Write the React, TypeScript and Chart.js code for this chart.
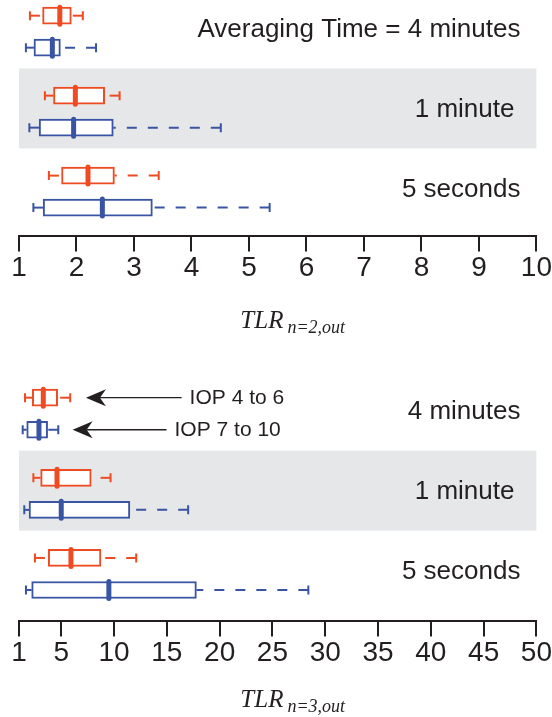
import React, { useEffect, useRef } from 'react';
import { Chart, registerables } from 'chart.js';

Chart.register(...registerables);

// ---------- data ----------
const SERIES = ['IOP 4 to 6', 'IOP 7 to 10'];
const COLORS = ['#EF4B23', '#3A54A4'];
const INK = '#231F20';
const BAND = '#E6E7E8';

// Panel 1: TLR n=2,out
const TOP_GROUPS = ['Averaging Time = 4 minutes', '1 minute', '5 seconds'];
const TOP_TICKS = [1, 2, 3, 4, 5, 6, 7, 8, 9, 10];
const TOP_RED_MIN = [1.19, 1.45, 1.52];
const TOP_RED_Q1 = [1.41, 1.6, 1.74];
const TOP_RED_MED = [1.71, 1.98, 2.2];
const TOP_RED_Q3 = [1.91, 2.49, 2.66];
const TOP_RED_MAX = [2.11, 2.75, 3.43];
const TOP_BLUE_MIN = [1.12, 1.18, 1.25];
const TOP_BLUE_Q1 = [1.26, 1.35, 1.42];
const TOP_BLUE_MED = [1.58, 1.95, 2.45];
const TOP_BLUE_Q3 = [1.72, 2.64, 3.32];
const TOP_BLUE_MAX = [2.34, 4.51, 5.36];

// Panel 2: TLR n=3,out
const BOT_GROUPS = ['4 minutes', '1 minute', '5 seconds'];
const BOT_TICKS = [1, 5, 10, 15, 20, 25, 30, 35, 40, 45, 50];
const BOT_RED_MIN = [1.57, 2.36, 2.51];
const BOT_RED_Q1 = [2.26, 3.05, 3.77];
const BOT_RED_MED = [3.3, 4.6, 5.92];
const BOT_RED_Q3 = [4.66, 7.84, 8.76];
const BOT_RED_MAX = [5.85, 9.67, 12.1];
const BOT_BLUE_MIN = [1.35, 1.5, 1.66];
const BOT_BLUE_Q1 = [1.73, 1.95, 2.2];
const BOT_BLUE_MED = [2.89, 5.0, 9.51];
const BOT_BLUE_Q3 = [3.71, 11.5, 17.8];
const BOT_BLUE_MAX = [4.72, 17.02, 28.4];

// legend arrows (bottom panel, 4-minute group): tip and tail in TLR units
const ARROW_TIP = [7.34, 6.08];
const ARROW_TAIL = [16.4, 14.97];

// row layout in slot units (1 slot = 16 px)
const GROUP_SPAN = 5;
const SERIES_GAP = 2;

const SANS = '"Liberation Sans", Arial, Helvetica, sans-serif';
const SERIF = '"Liberation Serif", "Times New Roman", serif';

type PanelDef = {
  groups: string[];
  ticks: number[];
  xMin: number;
  xMax: number;
  mins: number[][];
  q1s: number[][];
  meds: number[][];
  q3s: number[][];
  maxs: number[][];
  sub: string;
  height: number;
  padBottom: number;
  yMax: number;
  titleOffset: number;
  arrows: boolean;
};

const boxPlugin = {
  id: 'boxDecor',
  beforeDatasetsDraw(chart: any) {
    const { ctx, chartArea, scales } = chart;
    const y = scales.y;
    const top = y.getPixelForValue(GROUP_SPAN - 1.7);
    const bot = y.getPixelForValue(GROUP_SPAN + SERIES_GAP + 1.3);
    ctx.save();
    ctx.fillStyle = BAND;
    ctx.fillRect(chartArea.left, top, chartArea.right - chartArea.left, bot - top);
    ctx.restore();
  },
  afterDatasetsDraw(chart: any) {
    const { ctx, scales } = chart;
    const x = scales.x;
    chart.data.datasets.forEach((ds: any, di: number) => {
      const meta = chart.getDatasetMeta(di);
      meta.data.forEach((el: any, i: number) => {
        const yc = el.y;
        const pMin = x.getPixelForValue(ds.whiskerMin[i]);
        const pMax = x.getPixelForValue(ds.whiskerMax[i]);
        const pQ1 = x.getPixelForValue(ds.data[i].x[0]);
        const pQ3 = x.getPixelForValue(ds.data[i].x[1]);
        const pMed = x.getPixelForValue(ds.median[i]);
        ctx.save();
        ctx.strokeStyle = ds.borderColor;
        ctx.lineWidth = 2;
        ctx.lineCap = 'butt';
        // whiskers, dashed from the cap towards the box
        ctx.setLineDash([10, 11]);
        ctx.beginPath();
        ctx.moveTo(pMin, yc);
        ctx.lineTo(pQ1, yc);
        ctx.stroke();
        ctx.beginPath();
        ctx.moveTo(pMax, yc);
        ctx.lineTo(pQ3, yc);
        ctx.stroke();
        ctx.setLineDash([]);
        // caps
        ctx.beginPath();
        ctx.moveTo(pMin, yc - 4.5);
        ctx.lineTo(pMin, yc + 4.5);
        ctx.moveTo(pMax, yc - 4.5);
        ctx.lineTo(pMax, yc + 4.5);
        ctx.stroke();
        // median
        ctx.lineWidth = 5;
        ctx.lineCap = 'round';
        ctx.beginPath();
        ctx.moveTo(pMed, yc - 8.5);
        ctx.lineTo(pMed, yc + 8.5);
        ctx.stroke();
        ctx.restore();
      });
    });
  },
};

const textPlugin = {
  id: 'panelText',
  afterDraw(chart: any) {
    const { ctx, chartArea, scales } = chart;
    const o = chart.options.plugins.panelText;
    const y = scales.y;
    const x = scales.x;
    ctx.save();
    ctx.fillStyle = INK;
    ctx.font = `26px ${SANS}`;
    ctx.textAlign = 'right';
    ctx.textBaseline = 'alphabetic';
    const insets = [16, 22, 16];
    o.groups.forEach((g: string, gi: number) => {
      const yc = y.getPixelForValue(gi * GROUP_SPAN + SERIES_GAP / 2);
      ctx.fillText(g, chartArea.right - insets[gi], yc + 5);
    });

    if (o.arrows) {
      ctx.font = `21px ${SANS}`;
      ctx.textAlign = 'left';
      SERIES.forEach((name, s) => {
        const yc = y.getPixelForValue(s * SERIES_GAP);
        const tip = x.getPixelForValue(ARROW_TIP[s]);
        const tail = x.getPixelForValue(ARROW_TAIL[s]);
        ctx.strokeStyle = INK;
        ctx.lineWidth = 1.3;
        ctx.beginPath();
        ctx.moveTo(tip + 14, yc);
        ctx.lineTo(tail, yc);
        ctx.stroke();
        ctx.beginPath();
        ctx.moveTo(tip, yc);
        ctx.lineTo(tip + 20, yc - 8.5);
        ctx.lineTo(tip + 14, yc);
        ctx.lineTo(tip + 20, yc + 8.5);
        ctx.closePath();
        ctx.fill();
        ctx.fillText(name, tail + 8, yc + 6);
      });
    }

    // axis title: TLR with subscript
    const base = chartArea.bottom + o.titleOffset;
    ctx.textAlign = 'left';
    ctx.font = `italic 25px ${SERIF}`;
    const w1 = ctx.measureText('TLR').width;
    ctx.font = `italic 18px ${SERIF}`;
    const w2 = ctx.measureText(o.sub).width;
    const cx = (chartArea.left + chartArea.right) / 2 + 15;
    const start = cx - (w1 + 4 + w2) / 2;
    ctx.font = `italic 25px ${SERIF}`;
    ctx.fillText('TLR', start, base);
    ctx.font = `italic 18px ${SERIF}`;
    ctx.fillText(o.sub, start + w1 + 4, base + 5);
    ctx.restore();
  },
};

function buildConfig(p: PanelDef): any {
  return {
    type: 'bar',
    data: {
      datasets: SERIES.map((name, s) => ({
        label: name,
        data: p.q1s[s].map((q1, g) => ({ x: [q1, p.q3s[s][g]], y: g * GROUP_SPAN + s * SERIES_GAP })),
        whiskerMin: p.mins[s],
        whiskerMax: p.maxs[s],
        median: p.meds[s],
        backgroundColor: '#FFFFFF',
        borderColor: COLORS[s],
        borderWidth: 2,
        borderSkipped: false,
        barThickness: 17,
        grouped: false,
      })),
    },
    options: {
      indexAxis: 'y',
      animation: false,
      responsive: false,
      devicePixelRatio: 1,
      events: [],
      layout: { padding: { left: 19, right: 15, top: 0, bottom: p.padBottom } },
      scales: {
        x: {
          type: 'linear',
          min: p.xMin,
          max: p.xMax,
          afterBuildTicks: (scale: any) => {
            scale.ticks = p.ticks.map((v) => ({ value: v }));
          },
          ticks: {
            autoSkip: false,
            maxRotation: 0,
            color: INK,
            padding: 0,
            font: { family: SANS, size: 28 },
          },
          grid: {
            drawOnChartArea: false,
            drawTicks: true,
            tickLength: 15,
            lineWidth: 2,
            color: INK,
          },
          border: { display: true, color: INK, width: 2 },
        },
        y: {
          type: 'linear',
          display: false,
          reverse: true,
          offset: false,
          grace: 0,
          min: -0.98,
          max: p.yMax,
        },
      },
      plugins: {
        legend: { display: false },
        tooltip: { enabled: false },
        panelText: { groups: p.groups, sub: p.sub, arrows: p.arrows, titleOffset: p.titleOffset },
      },
    },
    plugins: [boxPlugin, textPlugin],
  };
}

const TOP_PANEL: PanelDef = {
  groups: TOP_GROUPS,
  ticks: TOP_TICKS,
  xMin: 1,
  xMax: 10,
  mins: [TOP_RED_MIN, TOP_BLUE_MIN],
  q1s: [TOP_RED_Q1, TOP_BLUE_Q1],
  meds: [TOP_RED_MED, TOP_BLUE_MED],
  q3s: [TOP_RED_Q3, TOP_BLUE_Q3],
  maxs: [TOP_RED_MAX, TOP_BLUE_MAX],
  sub: 'n=2,out',
  height: 345,
  padBottom: 60,
  yMax: 13.8,
  titleOffset: 92,
  arrows: false,
};

const BOT_PANEL: PanelDef = {
  groups: BOT_GROUPS,
  ticks: BOT_TICKS,
  xMin: 1,
  xMax: 50,
  mins: [BOT_RED_MIN, BOT_BLUE_MIN],
  q1s: [BOT_RED_Q1, BOT_BLUE_Q1],
  meds: [BOT_RED_MED, BOT_BLUE_MED],
  q3s: [BOT_RED_Q3, BOT_BLUE_Q3],
  maxs: [BOT_RED_MAX, BOT_BLUE_MAX],
  sub: 'n=3,out',
  height: 335,
  padBottom: 47,
  yMax: 13.96,
  titleOffset: 86,
  arrows: true,
};

function Panel({ def, top }: { def: PanelDef; top: number }) {
  const ref = useRef<HTMLCanvasElement | null>(null);
  useEffect(() => {
    if (!ref.current) return;
    const chart = new Chart(ref.current, buildConfig(def));
    return () => chart.destroy();
  }, [def]);
  return (
    <canvas
      ref={ref}
      width={552}
      height={def.height}
      style={{ position: 'absolute', left: 0, top, width: 552, height: def.height, display: 'block' }}
    />
  );
}

export default function App() {
  return (
    <div style={{ position: 'absolute', left: 0, top: 0, width: 552, height: 717, background: '#FFFFFF' }}>
      <Panel def={TOP_PANEL} top={0} />
      <Panel def={BOT_PANEL} top={382} />
    </div>
  );
}
